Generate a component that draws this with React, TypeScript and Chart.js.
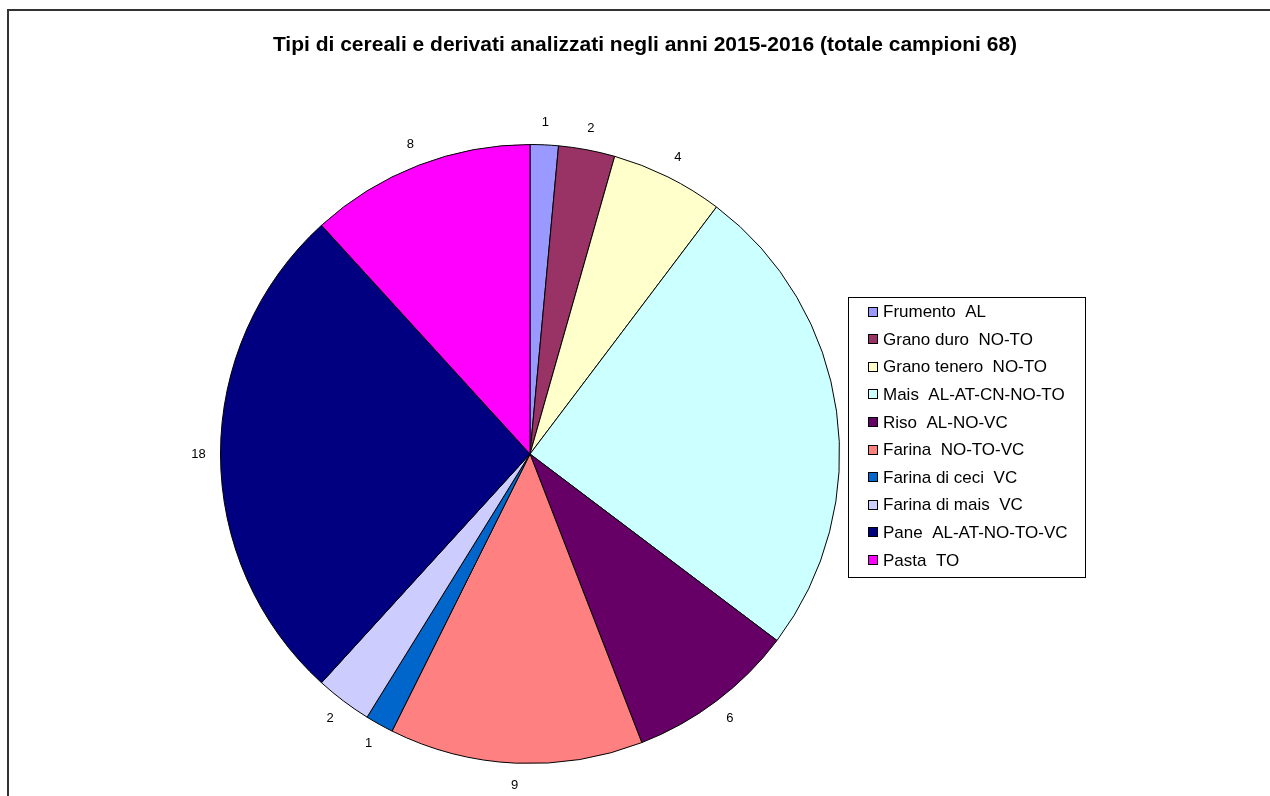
import React, { useEffect, useRef } from "react";
import { Chart, registerables } from "chart.js";

Chart.register(...registerables);

const TITLE = "Tipi di cereali e derivati analizzati negli anni 2015-2016 (totale campioni 68)";
const categories = [
  "Frumento  AL",
  "Grano duro  NO-TO",
  "Grano tenero  NO-TO",
  "Mais  AL-AT-CN-NO-TO",
  "Riso  AL-NO-VC",
  "Farina  NO-TO-VC",
  "Farina di ceci  VC",
  "Farina di mais  VC",
  "Pane  AL-AT-NO-TO-VC",
  "Pasta  TO",
];
const values = [1, 2, 4, 17, 6, 9, 1, 2, 18, 8];
const colors = [
  "#9999FF",
  "#993366",
  "#FFFFCC",
  "#CCFFFF",
  "#660066",
  "#FF8080",
  "#0066CC",
  "#CCCCFF",
  "#000080",
  "#FF00FF",
];

const FONT = '"Liberation Sans", Arial, sans-serif';

const decorPlugin = {
  id: "decor",
  beforeDraw(chart: any) {
    const ctx = chart.ctx;
    ctx.save();
    ctx.fillStyle = "#ffffff";
    ctx.fillRect(0, 0, chart.width, chart.height);
    ctx.strokeStyle = "#333333";
    ctx.lineWidth = 2;
    ctx.strokeRect(8, 10, chart.width + 20, chart.height + 20);
    ctx.fillStyle = "#000000";
    ctx.font = `bold 21px ${FONT}`;
    ctx.textAlign = "center";
    ctx.textBaseline = "alphabetic";
    ctx.fillText(TITLE, 645, 51);
    ctx.restore();
  },
  afterDatasetsDraw(chart: any) {
    const ctx = chart.ctx;
    const meta = chart.getDatasetMeta(0);
    ctx.save();
    ctx.font = `13px ${FONT}`;
    ctx.fillStyle = "#000000";
    ctx.textAlign = "center";
    ctx.textBaseline = "middle";
    meta.data.forEach((arc: any, i: number) => {
      const p = arc.getProps(["x", "y", "startAngle", "endAngle", "outerRadius"], true);
      const mid = (p.startAngle + p.endAngle) / 2;
      const r = p.outerRadius + 22;
      ctx.fillText(String(values[i]), p.x + Math.cos(mid) * r, p.y + Math.sin(mid) * r);
    });
    ctx.restore();
  },
  afterDraw(chart: any) {
    const ctx = chart.ctx;
    ctx.save();
    const bx = 848, by = 297, bw = 237, bh = 280;
    ctx.fillStyle = "#ffffff";
    ctx.fillRect(bx, by, bw, bh);
    ctx.strokeStyle = "#000000";
    ctx.lineWidth = 1;
    ctx.strokeRect(bx + 0.5, by + 0.5, bw, bh);
    ctx.font = `17px ${FONT}`;
    ctx.textAlign = "left";
    ctx.textBaseline = "middle";
    categories.forEach((c, i) => {
      const y = 311.5 + i * 27.6;
      ctx.fillStyle = colors[i];
      ctx.fillRect(868, Math.round(y - 5), 10, 10);
      ctx.strokeStyle = "#000000";
      ctx.strokeRect(868.5, Math.round(y - 5) + 0.5, 9, 9);
      ctx.fillStyle = "#000000";
      ctx.fillText(c, 883, y + 1);
    });
    ctx.restore();
  },
};

export default function App() {
  const ref = useRef<HTMLCanvasElement | null>(null);
  useEffect(() => {
    if (!ref.current) return;
    const chart = new Chart(ref.current, {
      type: "pie",
      data: {
        labels: categories,
        datasets: [
          {
            data: values,
            backgroundColor: colors,
            borderColor: "#000000",
            borderWidth: 1,
            hoverOffset: 0,
          },
        ],
      },
      options: {
        animation: false,
        responsive: false,
        events: [],
        layout: { padding: { left: 220, right: 430, top: 144, bottom: 32 } },
        plugins: {
          legend: { display: false },
          title: { display: false },
          tooltip: { enabled: false },
        },
      },
      plugins: [decorPlugin],
    });
    return () => chart.destroy();
  }, []);
  return (
    <div style={{ position: "absolute", left: 0, top: 0, width: 1270, height: 796, background: "#fff" }}>
      <canvas ref={ref} width={1270} height={796} style={{ display: "block" }} />
    </div>
  );
}
